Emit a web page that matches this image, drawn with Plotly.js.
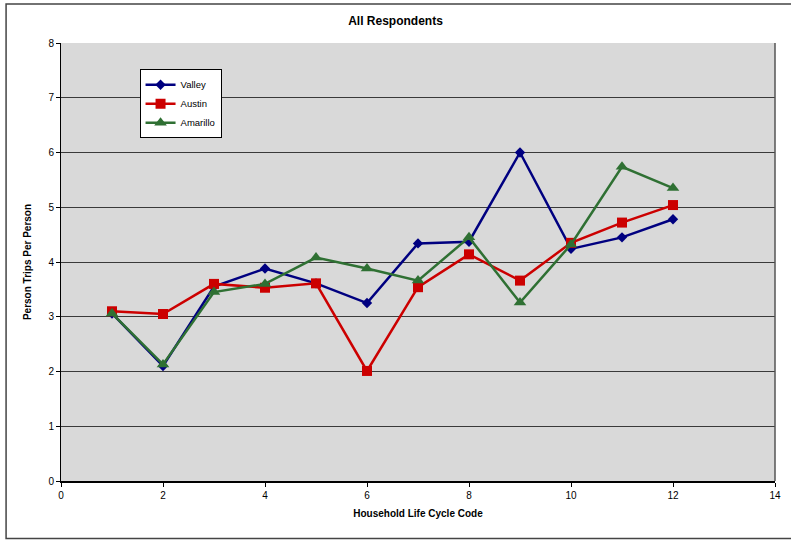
<!DOCTYPE html>
<html>
<head>
<meta charset="utf-8">
<script src="https://cdn.plot.ly/plotly-3.0.1.min.js"></script>
<style>
html,body{margin:0;padding:0;background:#fff;}
#chart{width:791px;height:540px;}
</style>
</head>
<body>
<div id="chart"></div>
<script>
const codes = [1, 2, 3, 4, 5, 6, 7, 8, 9, 10, 11, 12];
const valley = [3.06, 2.10, 3.55, 3.88, 3.61, 3.25, 4.34, 4.37, 6.00, 4.24, 4.45, 4.78];
const austin = [3.10, 3.05, 3.60, 3.53, 3.61, 2.01, 3.54, 4.14, 3.66, 4.35, 4.72, 5.04];
const amarillo = [3.06, 2.13, 3.45, 3.60, 4.08, 3.88, 3.66, 4.45, 3.26, 4.32, 5.74, 5.35];
const xTicks = [0, 2, 4, 6, 8, 10, 12, 14];
const yTicks = [0, 1, 2, 3, 4, 5, 6, 7, 8];

const font = 'Liberation Sans, Arial, sans-serif';

const traces = [
  {x: codes, y: valley, name: 'Valley', type: 'scatter', mode: 'lines+markers',
   line: {color: '#000080', width: 2.5}, marker: {symbol: 'diamond', size: 8, color: '#000080'}},
  {x: codes, y: austin, name: 'Austin', type: 'scatter', mode: 'lines+markers',
   line: {color: '#CC0000', width: 2.5}, marker: {symbol: 'square', size: 10, color: '#CC0000'}},
  {x: codes, y: amarillo, name: 'Amarillo', type: 'scatter', mode: 'lines+markers',
   line: {color: '#2F7033', width: 2.5}, marker: {symbol: 'triangle-up', size: 11, color: '#2F7033'}}
];

const layout = {
  width: 791, height: 540,
  margin: {l: 61, r: 16, t: 43, b: 59},
  paper_bgcolor: '#ffffff',
  plot_bgcolor: '#D9D9D9',
  font: {family: font, size: 11, color: '#000'},
  title: {text: '<b>All Respondents</b>', font: {family: font, size: 12, color: '#000'},
          x: 0.5, xanchor: 'center', y: 1 - 21/540, yanchor: 'middle'},
  xaxis: {
    range: [0, 14], tickvals: xTicks, ticktext: xTicks.map(String),
    showgrid: false, zeroline: false,
    showline: true, linecolor: '#000', linewidth: 1.5, mirror: false,
    ticks: 'outside', ticklen: 4, tickcolor: '#000',
    tickfont: {family: font, size: 10},
    title: {text: '<b>Household Life Cycle Code</b>', font: {family: font, size: 10}, standoff: 10}
  },
  yaxis: {
    range: [0, 8], tickvals: yTicks, ticktext: yTicks.map(String),
    showgrid: true, gridcolor: '#3a3a3a', gridwidth: 1, zeroline: false,
    showline: true, linecolor: '#000', linewidth: 1,
    ticks: 'outside', ticklen: 4, tickcolor: '#000',
    tickfont: {family: font, size: 10},
    title: {text: '<b>Person Trips Per Person</b>', font: {family: font, size: 10}, standoff: 14}
  },
  legend: {
    x: 0.11, y: 0.94, xanchor: 'left', yanchor: 'top',
    bgcolor: '#ffffff', bordercolor: '#000', borderwidth: 1,
    font: {family: font, size: 9.5}, itemwidth: 30, tracegroupgap: 0,
    itemsizing: 'trace'
  },
  showlegend: true,
  shapes: [
    {type: 'line', xref: 'paper', yref: 'paper', x0: 1, x1: 1, y0: 0, y1: 1,
     line: {color: '#555', width: 1.5}},
    {type: 'rect', xref: 'paper', yref: 'paper',
     x0: (6 - 61) / 715, x1: (800 - 61) / 715,
     y0: (481 - 538.5) / 438, y1: (481 - 4) / 438,
     line: {color: '#444', width: 1.5}, fillcolor: 'rgba(0,0,0,0)'}
  ]
};

Plotly.newPlot('chart', traces, layout, {displayModeBar: false, staticPlot: true});
</script>
</body>
</html>
